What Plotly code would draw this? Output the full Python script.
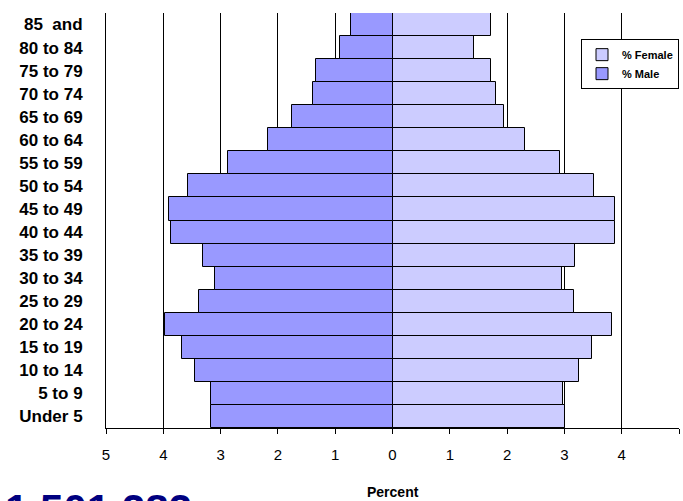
import plotly.graph_objects as go

age_groups = ["Under 5", "5 to 9", "10 to 14", "15 to 19", "20 to 24", "25 to 29",
              "30 to 34", "35 to 39", "40 to 44", "45 to 49", "50 to 54", "55 to 59",
              "60 to 64", "65 to 69", "70 to 74", "75 to 79", "80 to 84", "85\u00a0 and"]
male_pct = [3.16, 3.16, 3.44, 3.67, 3.97, 3.37, 3.10, 3.31, 3.86, 3.90, 3.57, 2.87,
            2.17, 1.75, 1.39, 1.33, 0.92, 0.73]
female_pct = [3.01, 2.97, 3.26, 3.48, 3.83, 3.16, 2.95, 3.19, 3.88, 3.88, 3.52, 2.92,
              2.31, 1.95, 1.81, 1.72, 1.43, 1.72]
tick_vals = [-5, -4, -3, -2, -1, 0, 1, 2, 3, 4, 5]
tick_text = ["5", "4", "3", "2", "1", "0", "1", "2", "3", "4", "5"]
total_pop = "1,501,282"

fig = go.Figure()
fig.add_trace(go.Bar(
    y=age_groups, x=female_pct, orientation="h", name="% Female",
    marker=dict(color="#CCCCFF", line=dict(color="black", width=1)),
))
fig.add_trace(go.Bar(
    y=age_groups, x=[-v for v in male_pct], orientation="h", name="% Male",
    marker=dict(color="#9999FF", line=dict(color="black", width=1)),
))

fig.update_layout(
    width=683, height=501,
    margin=dict(l=106, r=4, t=13, b=73, autoexpand=False),
    paper_bgcolor="white", plot_bgcolor="white",
    barmode="overlay", bargap=0,
    font=dict(family="Liberation Sans, Arial", color="black"),
    showlegend=True,
    legend=dict(
        x=1.0, xanchor="right", y=0.937, yanchor="top",
        bordercolor="black", borderwidth=1, bgcolor="white",
        font=dict(size=11, family="Liberation Sans, Arial", color="black", weight="bold"),
        itemwidth=30, tracegroupgap=6,
    ),
    xaxis=dict(
        range=[-5, 5], tickvals=tick_vals, ticktext=tick_text,
        showgrid=True, gridcolor="black", gridwidth=1,
        zeroline=True, zerolinecolor="black", zerolinewidth=1,
        showline=True, linecolor="black", linewidth=1,
        ticks="outside", ticklen=5, tickcolor="black",
        tickfont=dict(size=15, color="black"),
        ticklabelstandoff=8,
        fixedrange=True,
    ),
    yaxis=dict(
        categoryorder="array", categoryarray=age_groups,
        showgrid=False, showline=True, linecolor="black", linewidth=1,
        ticks="", tickfont=dict(size=17, color="black", weight="bold"),
        ticklabelstandoff=19, range=[-0.5, 17.5],
    ),
    annotations=[
        dict(text="Percent", xref="paper", yref="paper", x=0.5, y=-0.154,
             xanchor="center", yanchor="middle", showarrow=False,
             font=dict(size=14, weight="bold", color="black")),
        dict(text=total_pop, xref="paper", yref="paper", x=-0.18, y=-0.135,
             xanchor="left", yanchor="top", showarrow=False,
             font=dict(size=42, weight="bold", color="#000080")),
    ],
)

fig.write_html("out.html", config={"displayModeBar": False},
               post_script="document.body.style.margin='0';document.body.style.overflow='hidden';")
